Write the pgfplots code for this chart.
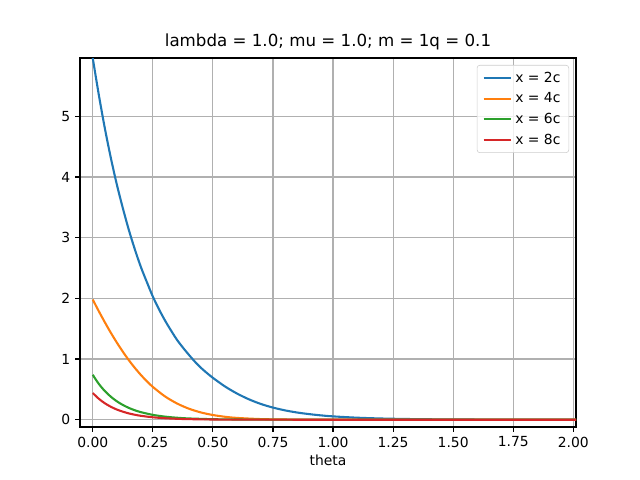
\documentclass[border=0pt]{standalone}
\usepackage{fontspec}
\setmainfont{DejaVu Sans}
\usepackage{pgfplots}
\pgfplotsset{compat=1.18}
\definecolor{c0}{HTML}{1F77B4}
\definecolor{c1}{HTML}{FF7F0E}
\definecolor{c2}{HTML}{2CA02C}
\definecolor{c3}{HTML}{D62728}
\begin{document}
\begin{tikzpicture}
\path[use as bounding box] (-57.6pt,-38.16pt) rectangle (403.2pt,307.44pt);
\begin{axis}[
  at={(0,0)}, anchor=south west,
  width=357.12pt, height=265.68pt, scale only axis,
  xmin=-0.053, xmax=2.011, ymin=-0.12, ymax=5.96,
  xtick={0,0.25,0.5,0.75,1,1.25,1.5,1.75,2},
  ytick={0,1,2,3,4,5},
  xticklabel style={/pgf/number format/.cd, fixed, fixed zerofill, precision=2},
  /pgf/number format/assume math mode=true,
  tick align=outside, tick pos=left, major tick length=3.5pt,
  every tick/.style={black, line width=0.8pt},
  axis line style={line width=0.8pt},
  grid=major, major grid style={color=black!31, line width=0.8pt},
  ticklabel style={font=\fontsize{10}{12}\selectfont},
  title={lambda = 1.0; mu = 1.0; m = 1q = 0.1},
  title style={at={(0.5,1)}, anchor=base, yshift=2pt, font=\fontsize{12}{14}\selectfont},
  xlabel={theta},
  xlabel style={at={(0.5,0)}, anchor=base, yshift=-28pt, font=\fontsize{10}{12}\selectfont},
  legend style={at={(1,1)}, anchor=north east, xshift=-5pt, yshift=-5pt,
    draw=black!20, rounded corners=2pt, fill=white, fill opacity=0.8, text opacity=1,
    font=\fontsize{10}{12}\selectfont, inner xsep=4pt, inner ysep=2.7pt, row sep=2pt},
  legend cell align=left,
  legend image code/.code={\draw[#1] (0pt,0pt) -- (20pt,0pt);},
  every axis plot/.append style={line width=1.5pt, smooth, tension=0.5},
]
\addplot[c0] coordinates {
(0,5.96) (0.025,5.36) (0.05,4.81) (0.075,4.32) (0.1,3.88) (0.125,3.49) (0.15,3.13) (0.175,2.81) (0.2,2.52) (0.225,2.27) (0.25,2.03)
(0.275,1.825) (0.3,1.64) (0.325,1.475) (0.35,1.32) (0.375,1.19) (0.4,1.07) (0.425,0.957) (0.45,0.856) (0.475,0.77) (0.5,0.69)
(0.55,0.549) (0.6,0.432) (0.65,0.336)
(0.7,0.259) (0.75,0.20) (0.8,0.154) (0.85,0.119) (0.9,0.0926) (0.95,0.0714) (1.0,0.055)
(1.1,0.0334) (1.2,0.0202) (1.3,0.0123) (1.4,0.0074) (1.5,0.0045) (1.6,0.0027) (1.7,0.0017)
(1.8,0.001) (1.9,0.0006) (2.0,0.0004) (2.011,0.0003)
};
\addlegendentry{x = 2c}
\addplot[c1] coordinates {
(0,1.98) (0.025,1.79) (0.05,1.608) (0.075,1.435) (0.1,1.273) (0.125,1.122) (0.15,0.982) (0.175,0.855) (0.2,0.739) (0.225,0.634) (0.25,0.541)
(0.3,0.386) (0.35,0.269) (0.4,0.182) (0.45,0.120) (0.5,0.0775) (0.55,0.0486) (0.6,0.0297)
(0.7,0.0103) (0.8,0.0032) (0.9,0.0009) (1.0,0.0002) (1.2,0.00001) (1.5,0) (2.011,0)
};
\addlegendentry{x = 4c}
\addplot[c2] coordinates {
(0,0.74) (0.025,0.592) (0.05,0.474) (0.075,0.380) (0.1,0.304) (0.125,0.244) (0.15,0.195) (0.175,0.156) (0.2,0.125)
(0.25,0.080) (0.3,0.0512) (0.35,0.0328) (0.4,0.021) (0.5,0.0086) (0.6,0.0035) (0.75,0.0009)
(1.0,0.0001) (1.5,0) (2.011,0)
};
\addlegendentry{x = 6c}
\addplot[c3] coordinates {
(0,0.44) (0.025,0.346) (0.05,0.272) (0.075,0.214) (0.1,0.168) (0.125,0.133) (0.15,0.104) (0.175,0.082) (0.2,0.0645)
(0.25,0.040) (0.3,0.0247) (0.35,0.0153) (0.4,0.0095) (0.5,0.0036) (0.6,0.0014) (0.75,0.0003)
(1.0,0.00003) (1.5,0) (2.011,0)
};
\addlegendentry{x = 8c}
\end{axis}
\end{tikzpicture}
\end{document}
